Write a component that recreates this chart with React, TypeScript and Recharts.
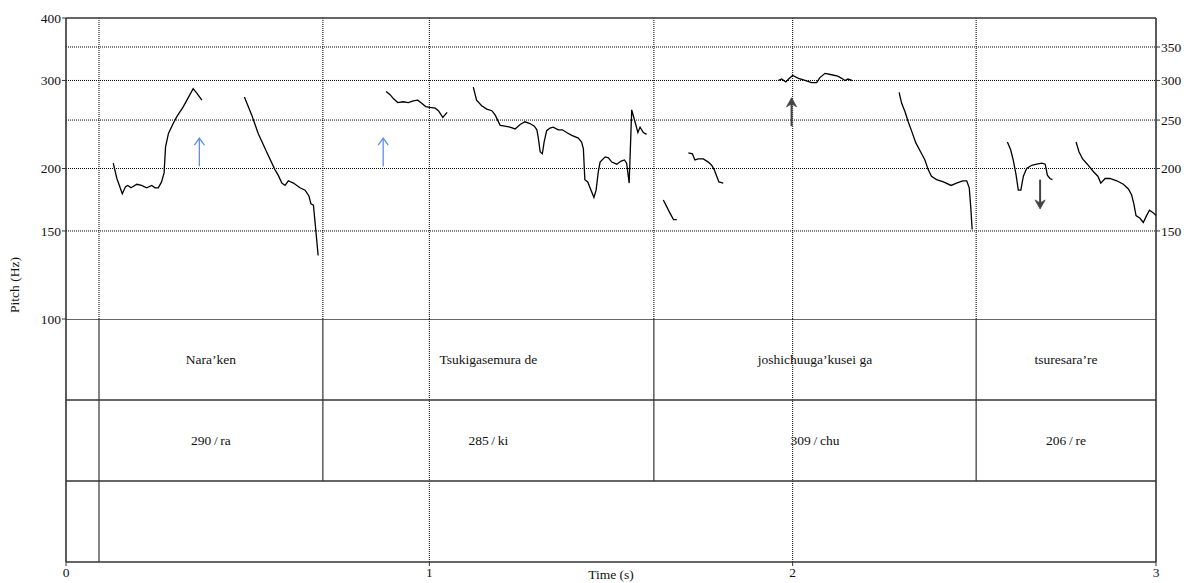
import { LineChart, Line, XAxis, YAxis, ReferenceLine, ReferenceArea, ComposedChart } from 'recharts';

const FONT = '"Liberation Serif", "Times New Roman", serif';

type Pt = [number, number];

// pitch contours, [time (s), F0 (Hz)]
const naraRise: Pt[] = [[0.130, 205], [0.140, 191], [0.155, 178], [0.164, 184], [0.170, 185], [0.179, 183], [0.195, 186], [0.208, 185], [0.222, 183], [0.236, 185], [0.245, 183], [0.254, 183], [0.263, 188], [0.270, 196], [0.274, 221], [0.282, 235], [0.295, 246], [0.305, 254], [0.323, 266], [0.341, 281], [0.350, 289], [0.360, 283], [0.374, 274]];
const naraFall: Pt[] = [[0.491, 278], [0.511, 256], [0.529, 235], [0.552, 216], [0.575, 199], [0.584, 194], [0.594, 187], [0.603, 185], [0.612, 189], [0.626, 187], [0.644, 183], [0.658, 181], [0.669, 176], [0.674, 170], [0.681, 169], [0.687, 152], [0.694, 134]];
const tsukiA: Pt[] = [[0.881, 285], [0.892, 281], [0.901, 276], [0.913, 271], [0.928, 272], [0.942, 271], [0.956, 273], [0.968, 274], [0.979, 270], [0.990, 266], [1.002, 265], [1.016, 264], [1.025, 261], [1.037, 253], [1.043, 256], [1.049, 259]];
const tsukiB: Pt[] = [[1.121, 291], [1.130, 274], [1.144, 267], [1.158, 263], [1.172, 261], [1.181, 256], [1.195, 244], [1.208, 243], [1.222, 242], [1.236, 240], [1.250, 245], [1.263, 248], [1.277, 246], [1.289, 243], [1.296, 239], [1.300, 230], [1.305, 216], [1.311, 214], [1.316, 226], [1.323, 238], [1.332, 241], [1.341, 242], [1.355, 239], [1.366, 239], [1.378, 236], [1.392, 233], [1.410, 230], [1.419, 226], [1.424, 219], [1.428, 190], [1.436, 188], [1.445, 181], [1.453, 175], [1.459, 181], [1.465, 197], [1.470, 206], [1.484, 211], [1.493, 210], [1.502, 206], [1.516, 204], [1.528, 207], [1.537, 208], [1.543, 205], [1.550, 187], [1.557, 262], [1.566, 248], [1.574, 236], [1.580, 242], [1.589, 236], [1.598, 234]];
const joshiA: Pt[] = [[1.644, 173], [1.653, 168], [1.662, 163], [1.672, 158], [1.681, 158]];
const joshiB: Pt[] = [[1.713, 215], [1.724, 214], [1.731, 208], [1.740, 209], [1.754, 209], [1.768, 206], [1.777, 203], [1.784, 199], [1.791, 193], [1.797, 188], [1.809, 187]];
const joshiC: Pt[] = [[1.961, 300], [1.970, 302], [1.981, 298], [1.991, 303], [2.000, 307], [2.016, 303], [2.034, 300], [2.052, 297], [2.066, 297], [2.075, 304], [2.089, 310], [2.107, 308], [2.124, 306], [2.135, 303], [2.144, 300], [2.152, 302], [2.163, 300]];
const joshiD: Pt[] = [[2.293, 284], [2.300, 270], [2.309, 260], [2.318, 248], [2.328, 237], [2.339, 225], [2.352, 216], [2.364, 208], [2.373, 199], [2.382, 193], [2.396, 190], [2.415, 188], [2.436, 185], [2.451, 187], [2.468, 189], [2.479, 189], [2.486, 183], [2.490, 168], [2.494, 151]];
const tsureA: Pt[] = [[2.591, 226], [2.600, 218], [2.607, 208], [2.615, 194], [2.621, 181], [2.628, 181], [2.635, 193], [2.644, 200], [2.658, 203], [2.672, 204], [2.686, 205], [2.695, 204], [2.701, 194], [2.708, 191], [2.715, 190]];
const tsureB: Pt[] = [[2.780, 226], [2.788, 216], [2.798, 209], [2.811, 204], [2.828, 197], [2.840, 193], [2.848, 187], [2.860, 191], [2.873, 191], [2.892, 189], [2.910, 186], [2.924, 182], [2.933, 177], [2.939, 170], [2.945, 161], [2.956, 159], [2.965, 156], [2.974, 161], [2.982, 165], [2.993, 163], [3.000, 161]];

const contours = [naraRise, naraFall, tsukiA, tsukiB, joshiA, joshiB, joshiC, joshiD, tsureA, tsureB];

const leftTicks = [100, 150, 200, 300, 400];
const rightTicks = [150, 200, 250, 300, 350];
const pitchGrid = [150, 200, 250, 300, 350];
const timeTicks = [0, 1, 2, 3];
const timeGrid = [1, 2];

// interval boundaries of the text grid
const start = 0.0908;
const boundaries = [0.707, 1.618, 2.505];

const wordTier = [
  { from: 0.0908, to: 0.707, text: 'Nara’ken' },
  { from: 0.707, to: 1.618, text: 'Tsukigasemura de' },
  { from: 1.618, to: 2.505, text: 'joshichuuga’kusei ga' },
  { from: 2.505, to: 3, text: 'tsuresara’re' },
];
const peakTier = [
  { from: 0.0908, to: 0.707, text: '290\u2009/\u2009ra' },
  { from: 0.707, to: 1.618, text: '285\u2009/\u2009ki' },
  { from: 1.618, to: 2.505, text: '309\u2009/\u2009chu' },
  { from: 2.505, to: 3, text: '206\u2009/\u2009re' },
];

// arrows: time, tail Hz, head Hz
const arrows = [
  { t: 0.367, from: 202, to: 230, kind: 'blue' },
  { t: 0.873, from: 202, to: 230, kind: 'blue' },
  { t: 1.997, from: 243, to: 277, kind: 'black' },
  { t: 2.681, from: 190, to: 166, kind: 'black' },
];

const FRAME = '#333';

const Arrow = (p: any) => {
  const { x1, y1, x2, y2, kind } = p;
  const dir = y2 < y1 ? -1 : 1;
  if (kind === 'blue') {
    const c = '#5b8ff0';
    return (
      <g>
        <line x1={x1} y1={y1} x2={x2} y2={y2} stroke={c} strokeWidth={1.3} />
        <polyline points={`${x2 - 5},${y2 - dir * 7} ${x2},${y2} ${x2 + 5},${y2 - dir * 7}`} fill="none" stroke={c} strokeWidth={1.3} />
      </g>
    );
  }
  const c = '#444';
  return (
    <g>
      <line x1={x1} y1={y1} x2={x2} y2={y2 - dir * 4} stroke={c} strokeWidth={2} />
      <path d={`M${x2},${y2} L${x2 - 5},${y2 - dir * 9} L${x2},${y2 - dir * 6} L${x2 + 5},${y2 - dir * 9} Z`} fill={c} stroke={c} strokeWidth={0.8} />
    </g>
  );
};

const tickStyle = { fontFamily: FONT, fontSize: 13.5, fill: '#111' };

export default function App() {
  return (
    <div style={{ position: 'absolute', left: 0, top: 0, width: 1186, height: 583, background: '#fff' }}>
      <div style={{ position: 'absolute', left: 0, top: 319 }}>
        <ComposedChart width={1186} height={264} margin={{ top: 0, right: 30, bottom: 0, left: 66 }} data={timeTicks.map((t) => ({ t }))}>
          <XAxis type="number" dataKey="t" domain={[0, 3]} ticks={timeTicks} allowDataOverflow height={21}
            axisLine={false} tickSize={4} tickMargin={1} tickLine={{ stroke: FRAME }} tick={tickStyle}
            label={{
              content: () => (
                <text x={611} y={257} textAnchor="middle" dominantBaseline="middle"
                  fontFamily={FONT} fontSize={13.5} fill="#111">Time (s)</text>
              ),
            }} />
          <YAxis type="number" domain={[0, 3]} hide allowDataOverflow />
          {wordTier.map((w) => (
            <ReferenceArea key={w.text} x1={w.from} x2={w.to} y1={2} y2={3} fillOpacity={0} strokeOpacity={0}
              label={{ value: w.text, position: 'center', fontFamily: FONT, fontSize: 13.5, fill: '#111' }} />
          ))}
          {peakTier.map((w) => (
            <ReferenceArea key={w.text} x1={w.from} x2={w.to} y1={1} y2={2} fillOpacity={0} strokeOpacity={0}
              label={{ value: w.text, position: 'center', fontFamily: FONT, fontSize: 13.5, fill: '#111' }} />
          ))}
          {timeGrid.map((t) => (
            <ReferenceLine key={t} x={t} stroke="#000" strokeDasharray="1 1" />
          ))}
          <ReferenceLine segment={[{ x: start, y: 0 }, { x: start, y: 3 }]} stroke={FRAME} strokeWidth={1.2} />
          {boundaries.map((b) => (
            <ReferenceLine key={b} segment={[{ x: b, y: 1 }, { x: b, y: 3 }]} stroke={FRAME} strokeWidth={1.2} />
          ))}
          {[1, 2, 3, 0].map((y) => (
            <ReferenceLine key={'h' + y} y={y} stroke={FRAME} strokeWidth={1.6} />
          ))}
          <ReferenceLine x={0} stroke={FRAME} strokeWidth={1.6} />
          <ReferenceLine x={3} stroke={FRAME} strokeWidth={1.6} />
        </ComposedChart>
      </div>
      <div style={{ position: 'absolute', left: 0, top: 0 }}>
        <LineChart width={1186} height={330} margin={{ top: 18, right: 0, bottom: 11, left: 0 }}>
          <XAxis type="number" dataKey="t" domain={[0, 3]} allowDataOverflow hide />
          <YAxis yAxisId="left" type="number" scale="log" domain={[100, 400]} allowDataOverflow ticks={leftTicks}
            width={66} axisLine={false} tickSize={4} tickMargin={1} tickLine={{ stroke: FRAME }} tick={tickStyle}
            label={{
              content: () => (
                <text transform="translate(16,285) rotate(-90)" textAnchor="middle" dominantBaseline="middle"
                  fontFamily={FONT} fontSize={13.5} fill="#111">Pitch (Hz)</text>
              ),
            }} />
          <YAxis yAxisId="right" orientation="right" type="number" scale="log" domain={[100, 400]} allowDataOverflow
            ticks={rightTicks} width={30} axisLine={false} tickSize={4} tickMargin={1} tickLine={{ stroke: FRAME }} tick={tickStyle} />
          {pitchGrid.map((hz) => (
            <ReferenceLine key={hz} yAxisId="left" y={hz} stroke="#000" strokeDasharray="1 1" />
          ))}
          {[start, ...boundaries, ...timeGrid].map((t) => (
            <ReferenceLine key={'v' + t} yAxisId="left" x={t} stroke="#000" strokeDasharray="1 1" />
          ))}
          <ReferenceLine yAxisId="left" y={400} stroke={FRAME} strokeWidth={1.6} />
          <ReferenceLine yAxisId="left" x={0} stroke={FRAME} strokeWidth={1.6} />
          <ReferenceLine yAxisId="left" x={3} stroke={FRAME} strokeWidth={1.6} />
          {contours.map((seg, i) => (
            <Line key={i} yAxisId="left" data={seg.map(([t, hz]) => ({ t, hz }))} dataKey="hz" type="linear"
              dot={false} activeDot={false} stroke="#000" strokeWidth={1.3} isAnimationActive={false} />
          ))}
          {arrows.map((a) => (
            <ReferenceLine key={a.t} yAxisId="left" segment={[{ x: a.t, y: a.from }, { x: a.t, y: a.to }]}
              shape={(p: any) => <Arrow {...p} kind={a.kind} />} />
          ))}
        </LineChart>
      </div>
    </div>
  );
}
